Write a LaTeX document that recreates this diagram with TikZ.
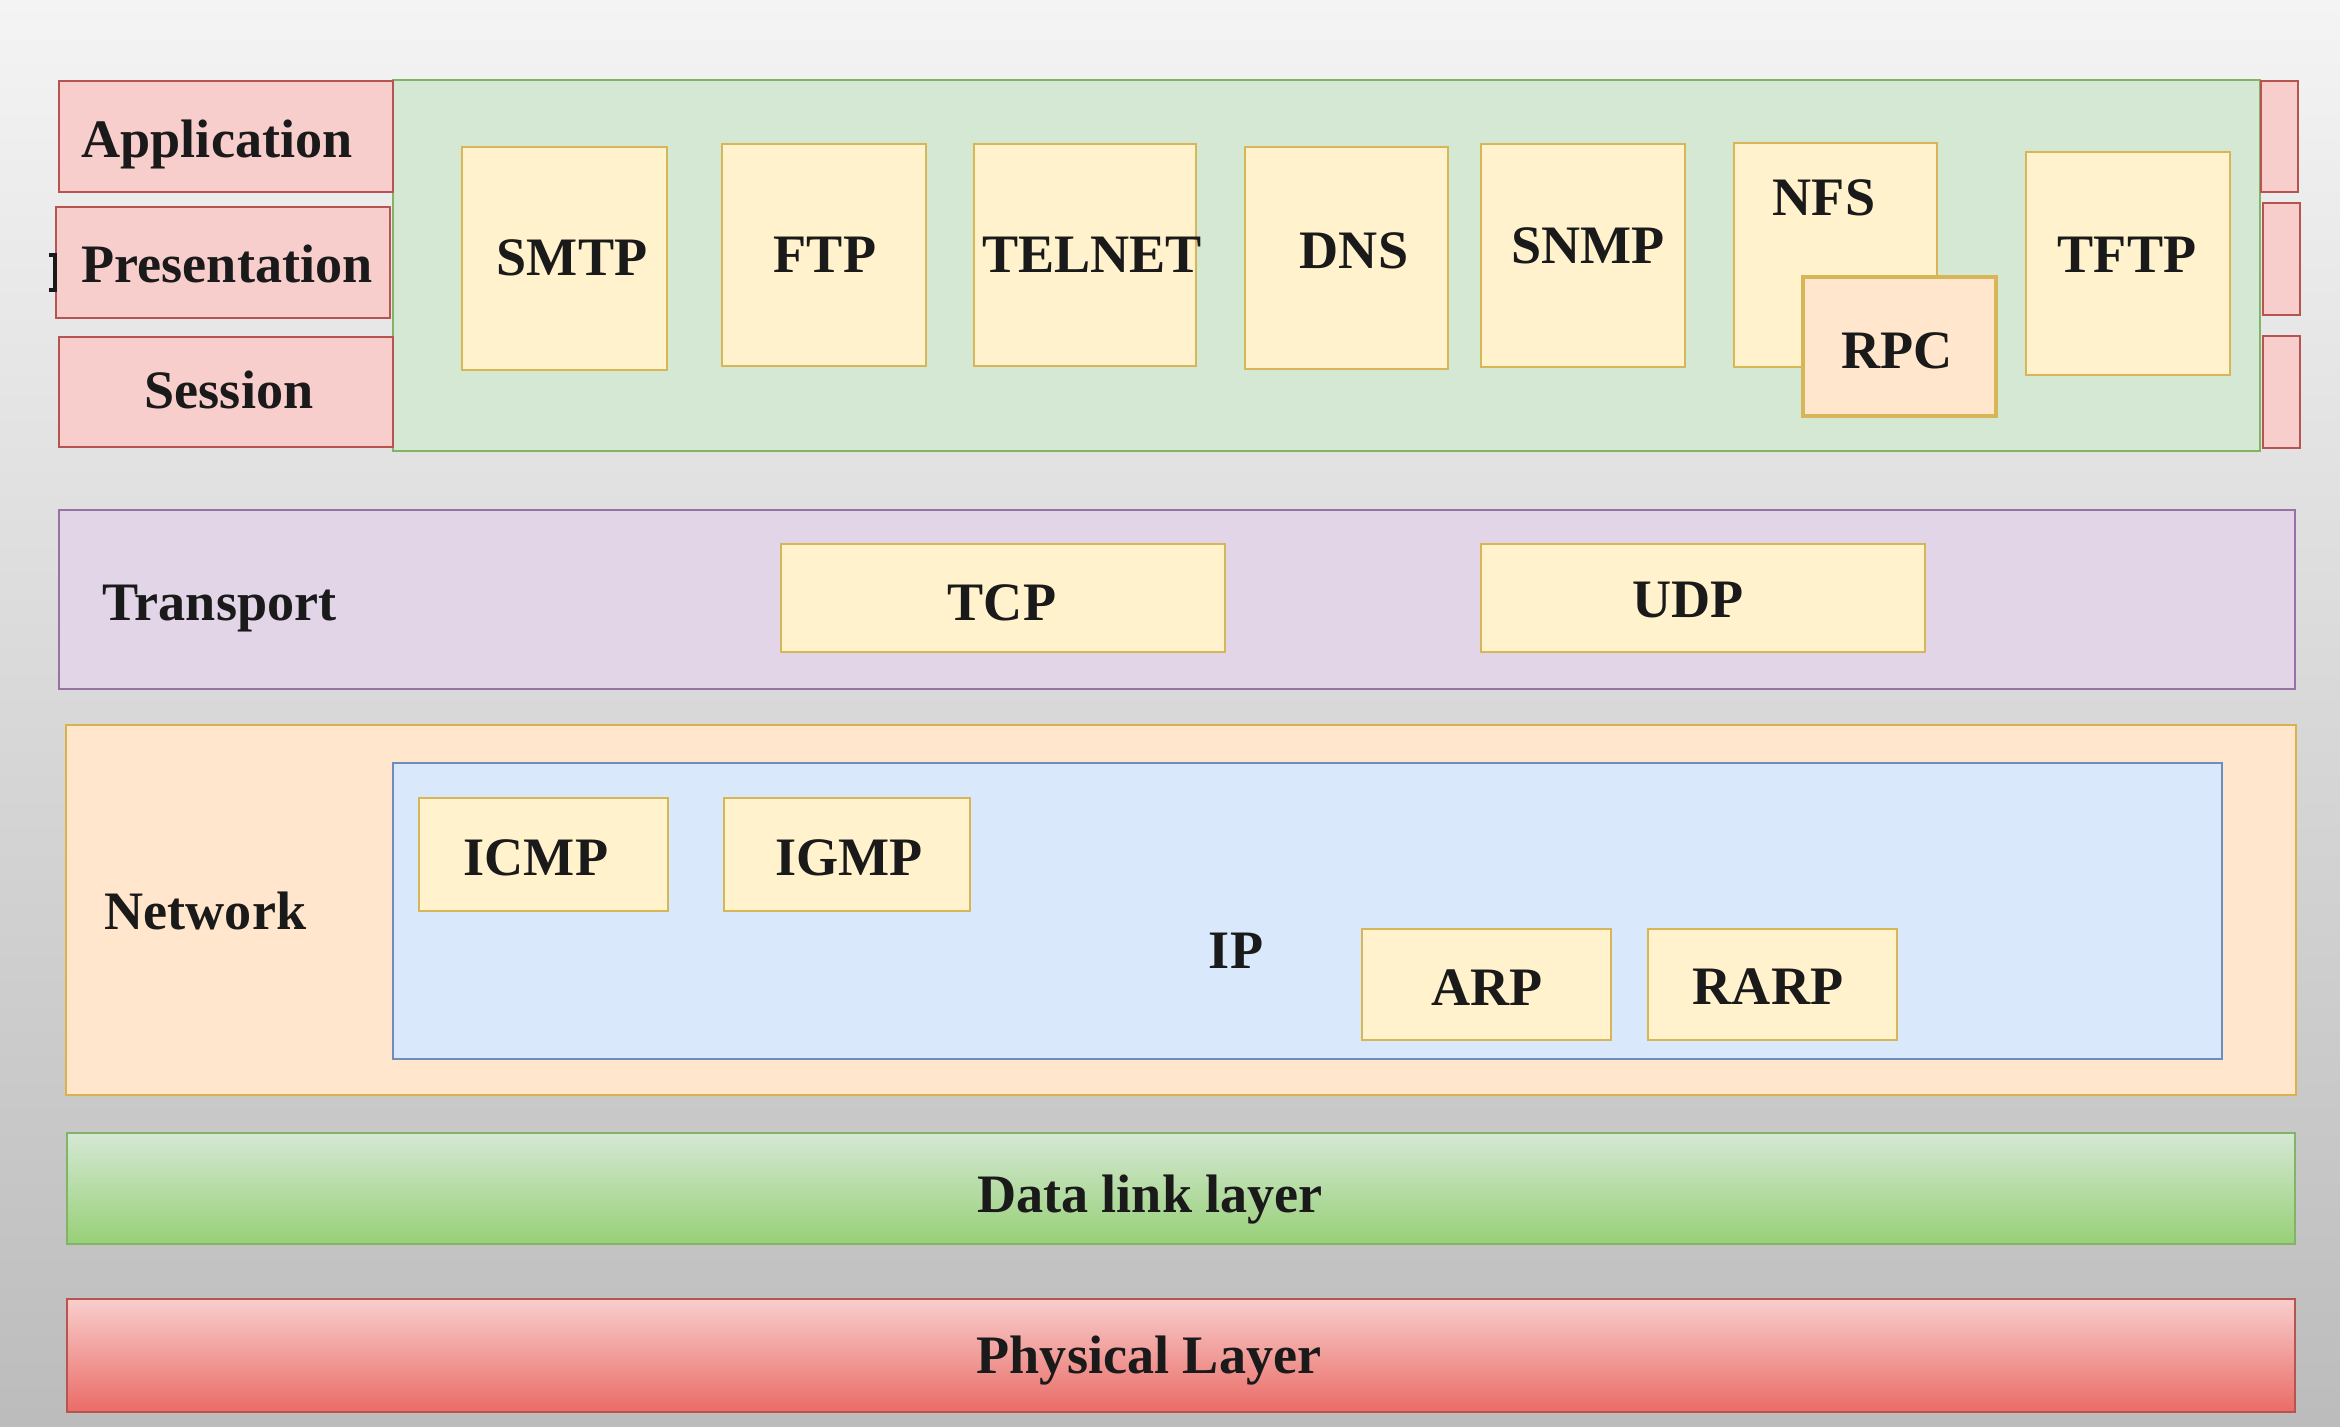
\documentclass[tikz,border=0pt]{standalone}
\usepackage{fontspec}
\setmainfont{Liberation Serif}
\usetikzlibrary{fit}

\definecolor{pinkF}{HTML}{F8CECC}
\definecolor{pinkD}{HTML}{B85450}
\definecolor{greenF}{HTML}{D5E8D4}
\definecolor{greenD}{HTML}{82B366}
\definecolor{yelF}{HTML}{FFF2CC}
\definecolor{yelD}{HTML}{D6B656}
\definecolor{peachF}{HTML}{FFE6CC}
\definecolor{purF}{HTML}{E1D5E7}
\definecolor{purD}{HTML}{9673A6}
\definecolor{bluF}{HTML}{DAE8FC}
\definecolor{bluD}{HTML}{6C8EBF}
\definecolor{grnBot}{HTML}{97D077}
\definecolor{redBot}{HTML}{EA6B66}
\definecolor{ink}{HTML}{1A1A1A}
\definecolor{bgTop}{HTML}{F4F4F4}
\definecolor{bgMid}{HTML}{D9D9D9}
\definecolor{bgBot}{HTML}{BCBCBC}

\begin{document}
\begin{tikzpicture}[x=0.01cm, y=-0.01cm,
  frame/.style={draw, line width=0.7pt, inner sep=0pt},
  osibox/.style={frame, fill=pinkF, draw=pinkD},
  proto/.style={frame, fill=yelF, draw=yelD},
  lbl/.style={inner sep=0pt, anchor=base, text=ink,
              font=\fontsize{15.4}{18}\selectfont\bfseries},
  lbll/.style={lbl, anchor=base west}]

% page background
\shade[top color=bgTop, middle color=bgMid, bottom color=bgBot]
  (0,0) rectangle (2340,1426);
\useasboundingbox (0,0) rectangle (2340,1426);

% ---------- upper layers (application / presentation / session) ----------
\node[frame, fill=greenF, draw=greenD, fit={(393,80) (2260,451)}] (app) {};

\node[osibox, fit={(59,81) (393,192)}] (appl) {};
\node[osibox, fit={(56,207) (390,318)}] (pres) {};
\node[osibox, fit={(59,337) (393,447)}] (sess) {};
\draw[ink, line width=1.2pt] (49,255) -- (55,255) -- (55,290) -- (49,290);
\node[lbl] (appl-l) at (217,157) {Application};
\node[lbl] (pres-l) at (227,282) {Presentation};
\node[lbl] (sess-l) at (229,408) {Session};

\node[osibox, fit={(2261,81) (2298,192)}] (rapp) {};
\node[osibox, fit={(2263,203) (2300,315)}] (rpres) {};
\node[osibox, fit={(2263,336) (2300,448)}] (rsess) {};

\node[proto, fit={(462,147) (667,370)}] (smtp) {};
\node[proto, fit={(722,144) (926,366)}] (ftp) {};
\node[proto, fit={(974,144) (1196,366)}] (telnet) {};
\node[proto, fit={(1245,147) (1448,369)}] (dns) {};
\node[proto, fit={(1481,144) (1685,367)}] (snmp) {};
\node[proto, fit={(1734,143) (1937,367)}] (nfs) {};
\node[proto, fit={(2026,152) (2230,375)}] (tftp) {};
\node[frame, fill=peachF, draw=yelD, line width=1.3pt,
      fit={(1803,277) (1996,416)}] (rpc) {};

\node[lbl] (smtp-l) at (572,275) {SMTP};
\node[lbl] (ftp-l) at (825,272) {FTP};
\node[lbl] (telnet-l) at (1092,272) {TELNET};
\node[lbl] (dns-l) at (1354,268) {DNS};
\node[lbl] (snmp-l) at (1588,263) {SNMP};
\node[lbl] (nfs-l) at (1824,215) {NFS};
\node[lbl] (rpc-l) at (1897,368) {RPC};
\node[lbl] (tftp-l) at (2127,272) {TFTP};

% ---------- transport ----------
\node[frame, fill=purF, draw=purD, fit={(59,510) (2295,689)}] (transport) {};
\node[lbll] (transport-l) at (102,620) {Transport};
\node[proto, fit={(781,544) (1225,652)}] (tcp) {};
\node[proto, fit={(1481,544) (1925,652)}] (udp) {};
\node[lbl] (tcp-l) at (1002,620) {TCP};
\node[lbl] (udp-l) at (1688,617) {UDP};

% ---------- network ----------
\node[frame, fill=peachF, draw=yelD!90!orange, fit={(66,725) (2296,1095)}] (network) {};
\node[lbll] (network-l) at (104,929) {Network};
\node[frame, fill=bluF, draw=bluD, fit={(393,763) (2222,1059)}] (ip) {};
\node[lbl] (ip-l) at (1236,968) {IP};
\node[proto, fit={(419,798) (668,911)}] (icmp) {};
\node[proto, fit={(724,798) (970,911)}] (igmp) {};
\node[proto, fit={(1362,929) (1611,1040)}] (arp) {};
\node[proto, fit={(1648,929) (1897,1040)}] (rarp) {};
\node[lbl] (icmp-l) at (536,875) {ICMP};
\node[lbl] (igmp-l) at (849,875) {IGMP};
\node[lbl] (arp-l) at (1487,1005) {ARP};
\node[lbl] (rarp-l) at (1768,1004) {RARP};

% ---------- data link and physical ----------
\node[frame, draw=greenD, top color=greenF, bottom color=grnBot,
      fit={(67,1133) (2295,1244)}] (datalink) {};
\node[lbl] (datalink-l) at (1150,1212) {Data link layer};
\node[frame, draw=pinkD, top color=pinkF, bottom color=redBot,
      fit={(67,1299) (2295,1412)}] (physical) {};
\node[lbl] (physical-l) at (1149,1373) {Physical Layer};

\end{tikzpicture}
\end{document}
